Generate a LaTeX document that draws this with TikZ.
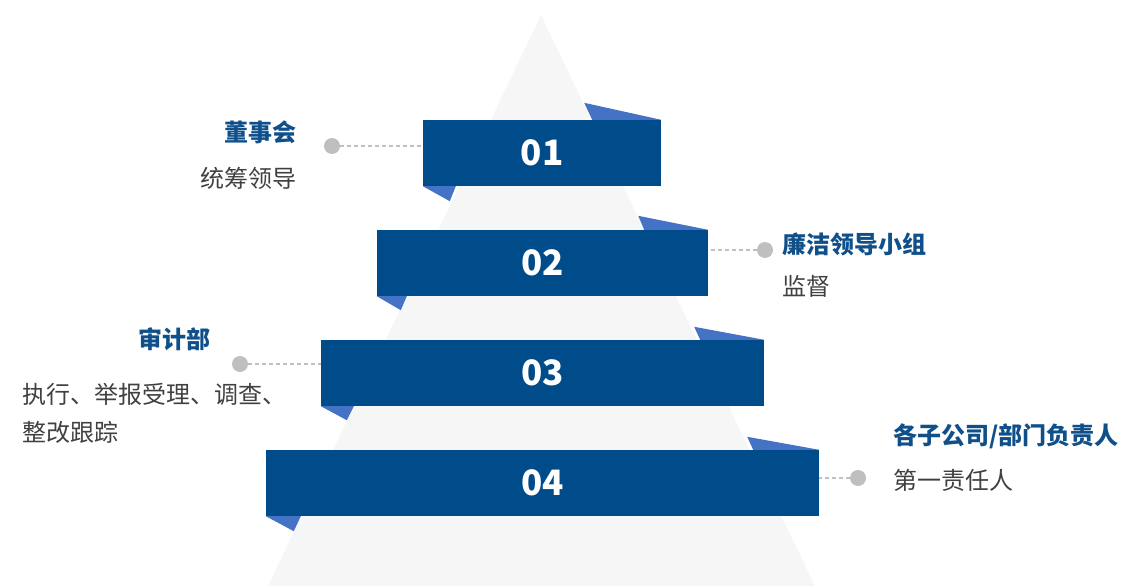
\documentclass[tikz,border=0pt]{standalone}
\usepackage{fontspec}
\setmainfont{Noto Sans CJK SC}
\usetikzlibrary{positioning}

\definecolor{bandblue}{HTML}{004B8A}
\definecolor{flapblue}{HTML}{4472C4}
\definecolor{pyramidgray}{HTML}{F6F6F6}
\definecolor{titleblue}{HTML}{0F4F8A}
\definecolor{textgray}{HTML}{404040}
\definecolor{dotgray}{HTML}{BFBFBF}

\begin{document}
\begin{tikzpicture}[x=1pt,y=-1pt,
    band/.style={fill=bandblue,text=white,inner sep=0pt,minimum height=66pt,
        font=\fontsize{35}{40}\selectfont\bfseries},
    flap/.style={fill=flapblue},
    dot/.style={circle,fill=dotgray,inner sep=0pt,minimum size=16pt},
    leader/.style={draw=dotgray,line width=1.2pt,dash pattern=on 4pt off 3pt},
    title/.style={text=titleblue,inner sep=0pt,font=\fontsize{24}{28}\selectfont\bfseries},
    desc/.style={text=textgray,inner sep=0pt,align=left,font=\fontsize{24}{38}\selectfont}]
\useasboundingbox (0,0) rectangle (1122,586);

% pyramid
\fill [pyramidgray] (541,15) -- (815,586) -- (268,586) -- cycle;

% bands
\node [band,minimum width=238pt] (band1) at (542,153) {01};
\node [band,minimum width=331pt] (band2) at (542.5,263) {02};
\node [band,minimum width=443pt] (band3) at (542.5,373) {03};
\node [band,minimum width=553pt] (band4) at (542.5,483) {04};

% folded corners
\fill [flap] (band1.north east) -- ++(-77,-17) -- ++(8,17) -- cycle;
\fill [flap] (band1.south west) -- ++(33,0) -- ++(-6,15) -- cycle;
\fill [flap] (band2.north east) -- ++(-70,-14) -- ++(6,14) -- cycle;
\fill [flap] (band2.south west) -- ++(30,0) -- ++(-6,14) -- cycle;
\fill [flap] (band3.north east) -- ++(-70,-13) -- ++(6,13) -- cycle;
\fill [flap] (band3.south west) -- ++(33,0) -- ++(-7,14) -- cycle;
\fill [flap] (band4.north east) -- ++(-72,-13) -- ++(6,13) -- cycle;
\fill [flap] (band4.south west) -- ++(35,0) -- ++(-7,15) -- cycle;

% leaders
\node [dot] (dot1) at (332,146) {};
\node [dot] (dot2) at (765,250) {};
\node [dot] (dot3) at (240,364) {};
\node [dot] (dot4) at (858,478) {};
\draw [leader] (dot1) -- (dot1 -| band1.west);
\draw [leader] (dot2) -- (dot2 -| band2.east);
\draw [leader] (dot3) -- (dot3 -| band3.west);
\draw [leader] (dot4) -- (dot4 -| band4.east);

% labels
\node [title,anchor=east] (title1) at (297,132) {董事会};
\node [desc,anchor=east] (desc1) at (297,178) {统筹领导};
\node [title,anchor=west] (title2) at (782,244) {廉洁领导小组};
\node [desc,anchor=west] (desc2) at (782,286) {监督};
\node [title,anchor=east] (title3) at (211,339) {审计部};
\node [desc,anchor=west] (desc3) at (22,413) {执行、举报受理、调查、\\整改跟踪};
\node [title,anchor=west] (title4) at (893,436) {各子公司/部门负责人};
\node [desc,anchor=west] (desc4) at (893,480) {第一责任人};
\end{tikzpicture}
\end{document}
